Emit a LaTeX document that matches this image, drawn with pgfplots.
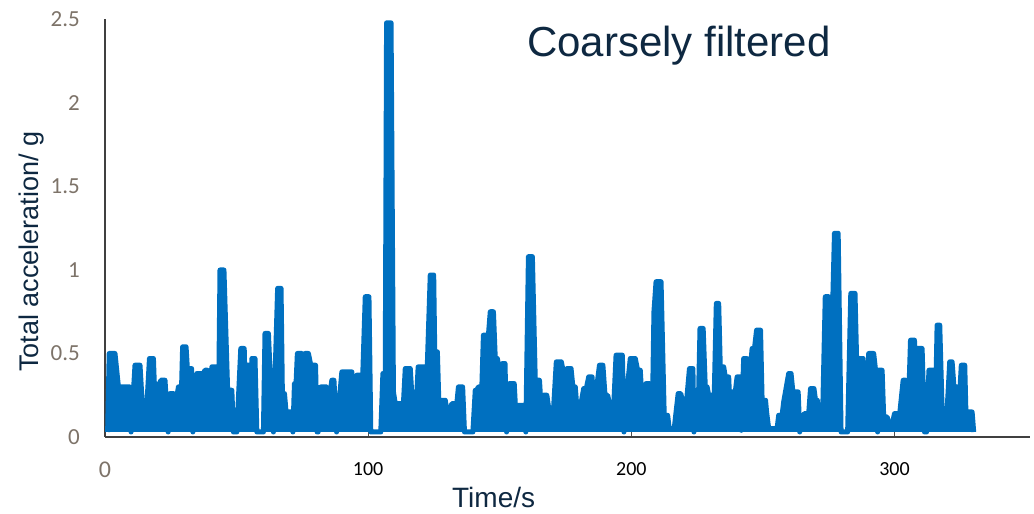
\documentclass[border=0pt]{standalone}
\usepackage{pgfplots}
\pgfplotsset{compat=1.18}
\usepackage{fontspec}
\setmainfont{Liberation Sans}
\newfontfamily\carlito{Carlito}
\definecolor{lineblue}{RGB}{0,112,192}
\definecolor{navy}{RGB}{14,40,65}
\definecolor{tickgray}{RGB}{125,115,105}

\begin{document}
\begin{tikzpicture}[x=1pt,y=1pt]
\path[use as bounding box] (0,0) rectangle (1034,514);
\begin{axis}[
  at={(105pt,77pt)}, anchor=south west,
  scale only axis, width=925pt, height=417.5pt,
  xmin=0, xmax=351.5, ymin=0, ymax=2.5,
  axis lines=left,
  axis line style={-, line width=1.5pt, black!75},
  xtick={0,100,200,300},
  xticklabels={{\fontsize{24}{24}\selectfont\color{tickgray}0},100,200,300},
  ytick={0,0.5,1,1.5,2,2.5},
  yticklabels={0,0.5,1,1.5,2,2.5},
  ytick style={draw=none},
  xtick style={black!70, line width=1pt},
  tick align=inside, major tick length=7pt,
  yticklabel style={font=\carlito\fontsize{23}{23}\selectfont, text=tickgray, anchor=east, inner sep=0pt, xshift=-25pt},
  xticklabel style={font=\carlito\fontsize{20}{20}\selectfont, text=black, anchor=north, inner sep=0pt, yshift=-25pt},
  title={Coarsely filtered},
  title style={at={(axis description cs:0.4562,0.8958)}, anchor=base west, inner sep=0pt, font=\fontsize{42}{50}\selectfont, text=navy},
  xlabel={Time/s},
  xlabel style={at={(axis description cs:0.3751,-0.170)}, anchor=base west, inner sep=0pt, font=\fontsize{28}{32}\selectfont, text=navy},
  ylabel={Total acceleration/ g},
  ylabel style={at={(axis description cs:-0.0724,0.1557)}, rotate=0, anchor=base west, inner sep=0pt, font=\fontsize{27}{32}\selectfont, text=navy},
  clip=false,
]
\addplot[draw=lineblue, line width=5pt, line join=round, fill=lineblue, mark=none] coordinates {
(1.0,0.03)
(1.6,0.50)(3.8,0.50)
(5.1,0.30)(9.4,0.30)
(9.9,0.03)
(11.4,0.43)(13.3,0.43)
(14.3,0.16)(15.8,0.16)
(16.9,0.47)(18.4,0.47)
(19.0,0.20)
(19.6,0.32)(20.6,0.30)
(21.2,0.34)(22.8,0.34)
(24.0,0.03)
(24.7,0.26)(26.0,0.26)
(26.6,0.17)
(27.9,0.30)(29.1,0.30)
(29.5,0.54)(30.8,0.54)
(31.3,0.41)(32.9,0.41)
(33.4,0.03)
(34.9,0.38)(37.4,0.38)
(38.0,0.40)(38.9,0.40)
(39.3,0.13)
(40.6,0.42)(42.5,0.42)
(43.1,0.10)
(43.7,1.00)(45.2,1.00)
(46.6,0.28)(48.2,0.28)
(48.8,0.03)(50.1,0.03)
(51.6,0.53)(52.9,0.53)
(53.3,0.25)
(54.1,0.43)(55.0,0.43)
(55.3,0.05)
(55.8,0.47)(57.0,0.47)
(57.7,0.03)(60.2,0.03)
(60.8,0.62)(62.1,0.62)
(62.7,0.40)(63.5,0.40)
(64.0,0.03)
(65.6,0.89)(66.9,0.89)
(67.4,0.26)(68.2,0.26)
(68.8,0.15)(71.0,0.15)
(71.4,0.03)
(72.0,0.32)(72.6,0.32)
(73.1,0.50)(74.8,0.50)
(75.4,0.35)
(76.0,0.50)(77.3,0.50)
(78.2,0.43)(80.0,0.43)
(80.6,0.03)(81.0,0.03)
(82.0,0.30)(84.3,0.30)
(84.7,0.27)(85.6,0.27)
(86.2,0.34)(87.0,0.34)
(88.0,0.03)
(90.0,0.39)(93.8,0.39)
(94.4,0.20)
(95.7,0.37)(97.0,0.37)
(97.6,0.20)
(98.9,0.84)(100.3,0.84)
(101.0,0.03)(104.8,0.03)
(105.6,0.38)(106.5,0.38)
(107.0,2.48)(108.7,2.48)
(109.6,0.27)
(110.3,0.20)(113.4,0.20)
(114.1,0.41)(116.0,0.41)
(116.8,0.20)(118.3,0.20)
(119.0,0.42)(121.3,0.42)
(121.8,0.10)
(123.6,0.97)(124.9,0.97)
(125.3,0.51)(126.3,0.51)
(127.0,0.13)
(128.0,0.22)(129.3,0.22)
(130.0,0.15)(131.0,0.15)
(131.8,0.20)(133.7,0.20)
(134.3,0.30)(135.9,0.30)
(136.6,0.03)(139.8,0.03)
(140.7,0.28)(141.3,0.28)
(141.9,0.30)(143.2,0.30)
(143.8,0.61)(145.7,0.61)
(146.4,0.75)(147.6,0.75)
(148.3,0.47)(149.1,0.47)
(149.7,0.41)(150.4,0.41)
(150.8,0.44)(152.0,0.44)
(152.6,0.03)
(153.7,0.32)(155.5,0.32)
(156.0,0.17)
(157.0,0.19)(159.3,0.19)
(159.9,0.03)
(160.9,1.08)(162.4,1.08)
(163.5,0.34)(165.1,0.34)
(165.9,0.13)
(166.6,0.25)(167.9,0.25)
(169.0,0.13)(170.3,0.13)
(171.5,0.45)(173.4,0.45)
(174.3,0.38)
(175.5,0.41)(177.1,0.41)
(177.8,0.30)(178.7,0.30)
(179.3,0.18)(180.6,0.18)
(181.0,0.21)
(181.9,0.29)(182.9,0.29)
(183.8,0.36)(185.1,0.36)
(185.7,0.15)
(187.9,0.43)(189.2,0.43)
(190.0,0.25)(191.0,0.25)
(192.0,0.18)(193.3,0.18)
(194.2,0.49)(196.6,0.49)
(197.2,0.03)
(198.2,0.25)
(199.6,0.47)(201.5,0.47)
(202.4,0.40)(203.4,0.40)
(204.0,0.24)(205.0,0.24)
(205.6,0.32)(206.9,0.32)
(207.5,0.24)(208.1,0.24)
(208.6,0.75)
(209.4,0.93)(211.3,0.93)
(212.5,0.13)(213.8,0.13)
(214.4,0.05)(216.3,0.05)
(217.8,0.26)(218.8,0.26)
(219.9,0.18)(220.8,0.18)
(222.1,0.41)(223.4,0.41)
(223.8,0.03)
(225.0,0.28)(225.6,0.28)
(226.1,0.65)(227.3,0.65)
(228.1,0.30)(228.8,0.30)
(229.4,0.25)(230.7,0.25)
(231.3,0.10)
(232.3,0.80)(233.2,0.80)
(233.8,0.42)(235.1,0.42)
(235.7,0.36)(237.0,0.36)
(237.6,0.13)
(238.3,0.27)(239.5,0.27)
(240.2,0.36)(241.4,0.36)
(241.8,0.04)
(242.7,0.47)(243.9,0.47)
(244.2,0.05)
(244.6,0.40)(245.2,0.40)
(245.9,0.53)(246.8,0.53)
(247.6,0.64)(249.1,0.64)
(249.7,0.22)(251.0,0.22)
(251.4,0.15)
(252.2,0.05)(255.4,0.05)
(256.0,0.13)(257.3,0.13)
(257.9,0.21)
(259.8,0.38)(260.7,0.38)
(261.4,0.27)
(262.3,0.27)(263.4,0.27)
(264.0,0.03)
(264.9,0.12)
(265.8,0.14)(267.4,0.14)
(268.1,0.29)(269.4,0.29)
(270.0,0.22)(270.7,0.22)
(271.3,0.06)(272.6,0.06)
(273.7,0.84)(275.0,0.84)
(275.9,0.41)
(277.2,1.22)(278.6,1.22)
(279.7,0.03)(282.2,0.03)
(283.4,0.86)(285.0,0.86)
(285.6,0.47)(288.1,0.47)
(289.0,0.16)(289.6,0.16)
(290.2,0.50)(292.1,0.50)
(292.8,0.40)(293.3,0.40)
(293.6,0.03)
(293.9,0.40)(295.3,0.40)
(295.9,0.12)(297.2,0.12)
(298.2,0.07)(299.1,0.07)
(300.0,0.14)(302.0,0.14)
(303.3,0.34)(304.2,0.34)
(304.9,0.28)(305.5,0.28)
(306.1,0.58)(307.6,0.58)
(308.1,0.15)
(308.6,0.53)(310.5,0.53)
(311.4,0.03)(312.2,0.03)
(313.1,0.40)(314.8,0.40)
(315.6,0.18)
(316.2,0.67)(317.2,0.67)
(318.1,0.16)(320.0,0.16)
(321.0,0.45)(321.9,0.45)
(322.6,0.30)(323.6,0.30)
(324.1,0.29)(324.9,0.29)
(325.4,0.43)(326.7,0.43)
(327.3,0.05)
(327.8,0.15)(329.5,0.15)
(330.1,0.03)
};
\end{axis}
\end{tikzpicture}
\end{document}
